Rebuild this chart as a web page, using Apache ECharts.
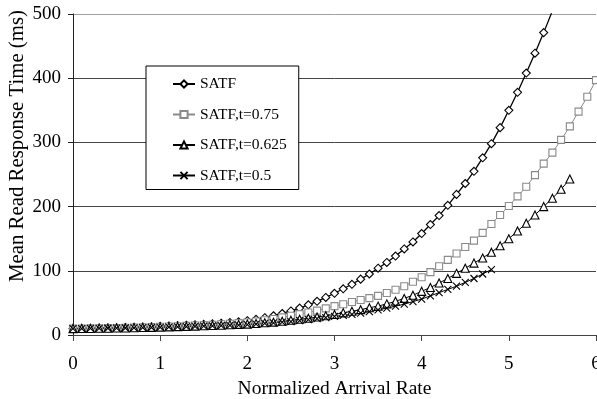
<!DOCTYPE html>
<html>
<head>
<meta charset="utf-8">
<script src="https://cdn.jsdelivr.net/npm/echarts@6/dist/echarts.min.js"></script>
<style>
  html, body { margin: 0; padding: 0; background: #fff; }
  #chart { width: 597px; height: 399px; }
</style>
</head>
<body>
<div id="chart"></div>
<script>
// Normalized arrival rate, sampled every 0.1
const arrivalRate = [
  0.0, 0.1, 0.2, 0.3, 0.4, 0.5, 0.6, 0.7, 0.8, 0.9,
  1.0, 1.1, 1.2, 1.3, 1.4, 1.5, 1.6, 1.7, 1.8, 1.9,
  2.0, 2.1, 2.2, 2.3, 2.4, 2.5, 2.6, 2.7, 2.8, 2.9,
  3.0, 3.1, 3.2, 3.3, 3.4, 3.5, 3.6, 3.7, 3.8, 3.9,
  4.0, 4.1, 4.2, 4.3, 4.4, 4.5, 4.6, 4.7, 4.8, 4.9,
  5.0, 5.1, 5.2, 5.3, 5.4, 5.5, 5.6, 5.7, 5.8, 5.9,
  6.0
];

// Mean read response time (ms) per scheduler
const satf = [
  10, 10.2, 10.4, 10.7, 11, 11.3, 11.7, 12.1, 12.5, 13,
  13.5, 14, 14.6, 15.2, 15.9, 16.6, 17.4, 18.3, 19.3, 20.6,
  22.3, 24.5, 27, 30, 33.5, 37.5, 42, 47, 52.5, 58.5,
  65, 72, 79, 87, 95, 104, 113, 123, 134, 145,
  158, 172, 186, 202, 219, 236, 255, 276, 298, 323,
  350, 378, 408, 439, 471, 505
];
const satfT075 = [
  10, 10.1, 10.3, 10.5, 10.7, 11, 11.3, 11.6, 12, 12.4,
  12.8, 13.2, 13.7, 14.2, 14.8, 15.4, 16, 16.8, 17.6, 18.5,
  19.5, 21, 23, 25, 27.5, 30, 32.5, 35, 38, 41.5,
  45, 48, 51.5, 54.5, 57.5, 61, 65.5, 70.5, 76, 83,
  90, 98, 107, 117, 127, 137, 147, 159, 173, 187,
  201, 216, 231, 249, 267, 284, 304, 325, 348, 371,
  397
];
const satfT0625 = [
  10, 10.1, 10.2, 10.4, 10.6, 10.8, 11, 11.3, 11.6, 11.9,
  12.2, 12.6, 13, 13.4, 13.8, 14.3, 14.8, 15.3, 15.9, 16.5,
  17, 18, 19, 20, 21.5, 23, 24.5, 26, 28, 30,
  32, 34.5, 37, 39.5, 42.5, 45, 48.5, 52.5, 57, 62,
  68, 74, 81, 88, 96, 104, 112, 120, 129, 139,
  150, 162, 174, 187, 200, 213, 227, 243
];
const satfT05 = [
  10, 10.1, 10.2, 10.3, 10.5, 10.7, 10.9, 11.1, 11.4, 11.7,
  12, 12.3, 12.6, 13, 13.4, 13.8, 14.2, 14.6, 15.1, 15.5,
  16, 17, 18, 19, 20, 21, 22.5, 24, 25.5, 27,
  29, 30.5, 32, 34, 36.5, 39, 42, 45, 48, 52,
  56, 61, 66, 71, 76, 82, 88, 95, 102
];

const seriesNames = ['SATF', 'SATF,t=0.75', 'SATF,t=0.625', 'SATF,t=0.5'];
const xTicks = { min: 0, max: 6, step: 1 };
const yTicks = { min: 0, max: 500, step: 100 };

const serif = '"Liberation Serif", "Times New Roman", serif';

function pairs(values) {
  return values.map((v, i) => [arrivalRate[i], v]);
}

function lineSeries(name, values, symbol, size, stroke, lineColor, lineWidth) {
  return {
    name: name,
    type: 'line',
    data: pairs(values),
    symbol: symbol,
    symbolSize: size,
    showAllSymbol: true,
    clip: true,
    lineStyle: { color: lineColor, width: lineWidth },
    itemStyle: { color: '#fff', borderColor: stroke, borderWidth: 1.1 },
    emphasis: { disabled: true }
  };
}

const chart = echarts.init(document.getElementById('chart'), null, { renderer: 'canvas' });

chart.setOption({
  animation: false,
  backgroundColor: '#fff',
  textStyle: { fontFamily: serif, color: '#000' },
  grid: {
    left: 73, right: 1, top: 14, bottom: 64,
    containLabel: false,
    outerBoundsMode: 'none'
  },
  legend: {
    data: seriesNames,
    orient: 'vertical',
    left: 146,
    top: 66,
    padding: [10, 12, 6, 26],
    itemGap: 14.5,
    itemWidth: 22,
    itemHeight: 9,
    borderColor: '#000',
    borderWidth: 1,
    backgroundColor: '#fff',
    textStyle: { fontFamily: serif, fontSize: 15.5, color: '#000' }
  },
  xAxis: {
    type: 'value',
    min: xTicks.min,
    max: xTicks.max,
    interval: xTicks.step,
    name: 'Normalized Arrival Rate',
    nameLocation: 'middle',
    nameGap: 40,
    nameTextStyle: { fontFamily: serif, fontSize: 19.5, color: '#000' },
    axisLine: { show: true, lineStyle: { color: '#444', width: 1 } },
    axisTick: { show: true, inside: false, length: 6, lineStyle: { color: '#444' } },
    axisLabel: { margin: 20, fontFamily: serif, fontSize: 19, color: '#000' },
    splitLine: { show: false }
  },
  yAxis: {
    type: 'value',
    min: yTicks.min,
    max: yTicks.max,
    interval: yTicks.step,
    axisLine: { show: true, lineStyle: { color: '#222', width: 1 } },
    axisTick: { show: true, inside: false, length: 5, lineStyle: { color: '#222' } },
    axisLabel: { margin: 12, fontFamily: serif, fontSize: 19, color: '#000' },
    splitLine: {
      show: true,
      lineStyle: { color: ['#444', '#444', '#444', '#444', '#444', '#a0a0a0'], width: 1 }
    }
  },
  graphic: [{
    type: 'text',
    x: 18,
    y: 146,
    rotation: Math.PI / 2,
    style: {
      text: 'Mean Read Response Time (ms)',
      fontFamily: serif,
      fontSize: 20.8,
      fill: '#000',
      align: 'center',
      verticalAlign: 'middle'
    }
  }],
  series: [
    lineSeries(seriesNames[0], satf, 'diamond', 8, '#000', '#000', 1.3),
    lineSeries(seriesNames[1], satfT075, 'rect', 7, '#8a8a8a', '#8a8a8a', 1),
    lineSeries(seriesNames[2], satfT0625, 'triangle', 8, '#000', '#000', 1),
    lineSeries(seriesNames[3], satfT05, 'path://M0,0L10,10M10,0L0,10', 7, '#000', '#000', 1)
  ]
});
</script>
</body>
</html>
